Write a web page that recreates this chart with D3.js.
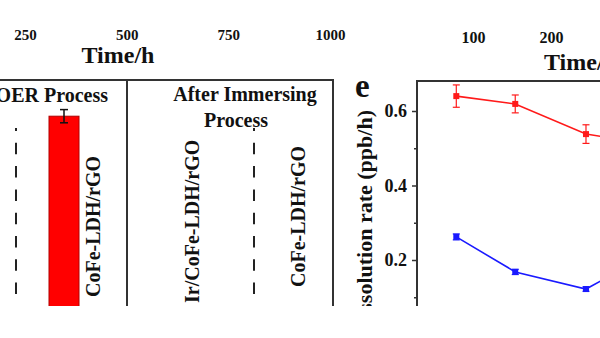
<!DOCTYPE html>
<html><head><meta charset="utf-8">
<script src="https://cdn.jsdelivr.net/npm/d3@7"></script>
<style>
html,body{margin:0;padding:0;background:#fff;}
svg text{font-family:"Liberation Serif","Times New Roman",serif;font-weight:bold;fill:#111;}
</style></head>
<body>
<svg id="chart" width="600" height="338"></svg>
<script>
// ---------- data ----------
const topLeftTicks = [250, 500, 750, 1000];
const topRightTicks = [100, 200];
const barCategories = ["CoFe-LDH/rGO"];
const barValues = [0.86];
const barErrors = [0.02];
const immersingLabels = ["Ir/CoFe-LDH/rGO", "CoFe-LDH/rGO"];
const rateTimes = [10, 25, 43, 60];
const redRates = [0.64, 0.619, 0.538, 0.51];
const redErrors = [0.03, 0.024, 0.025, 0.02];
const blueRates = [0.262, 0.168, 0.122, 0.22];
const blueErrors = [0.008, 0.007, 0.006, 0.008];
const yMajorTicks = [0.2, 0.4, 0.6];
const yMinorTicks = [0.1, 0.3, 0.5];

const svg = d3.select("#chart");
svg.append("defs").append("clipPath").attr("id", "cut")
  .append("rect").attr("x", 0).attr("y", 0).attr("width", 600).attr("height", 306);
const root = svg.append("g").attr("clip-path", "url(#cut)");

// ---------- top-left axis (upper panel remnant) ----------
const xTopL = d3.scaleLinear().domain([250, 1000]).range([25, 330]);
const gTL = root.append("g").attr("transform", "translate(0,20)")
  .call(d3.axisBottom(xTopL).tickValues(topLeftTicks).tickSize(0).tickPadding(9)
    .tickFormat(d3.format("d")));
gTL.select(".domain").remove();
gTL.selectAll("text").style("font-size", "15px").attr("font-family", null);
root.append("text").attr("x", 118).attr("y", 63).attr("text-anchor", "middle")
  .style("font-size", "24px").text("Time/h");

// ---------- top-right axis (upper panel remnant) ----------
const xTopR = d3.scaleLinear().domain([100, 200]).range([473, 551]);
const gTR = root.append("g").attr("transform", "translate(0,22)")
  .call(d3.axisBottom(xTopR).tickValues(topRightTicks).tickSize(0).tickPadding(10)
    .tickFormat(d3.format("d")));
gTR.select(".domain").remove();
gTR.selectAll("text").style("font-size", "16px").attr("font-family", null);
root.append("text").attr("x", 544).attr("y", 70).style("font-size", "24px").text("Time/h");

// ---------- middle panel ----------
const frameColor = "#333";
root.append("line").attr("x1", 0).attr("x2", 333).attr("y1", 80).attr("y2", 80)
  .attr("stroke", frameColor).attr("stroke-width", 2);
[127, 333].forEach(x => root.append("line").attr("x1", x).attr("x2", x)
  .attr("y1", 79).attr("y2", 320).attr("stroke", frameColor).attr("stroke-width", 2));

root.append("text").attr("x", 108).attr("y", 102).attr("text-anchor", "end")
  .style("font-size", "20px").text("OER Process");
root.append("text").attr("x", 245).attr("y", 101).attr("text-anchor", "middle")
  .style("font-size", "20px").text("After Immersing");
root.append("text").attr("x", 236).attr("y", 127).attr("text-anchor", "middle")
  .style("font-size", "20px").text("Process");

// dashed separators
[16, 254].forEach(x => root.append("line").attr("x1", x).attr("x2", x)
  .attr("y1", 128).attr("y2", 320).attr("stroke", "#222").attr("stroke-width", 2)
  .attr("stroke-dasharray", "11.5,11.8").attr("stroke-dashoffset", 8.5));

const xBar = d3.scaleBand().domain(barCategories).range([49, 79]).padding(0);
const yBar = d3.scaleLinear().domain([0, 1]).range([400, 70]);
root.selectAll("rect.bar").data(barValues).join("rect").attr("class", "bar")
  .attr("x", (d, i) => xBar(barCategories[i])).attr("width", xBar.bandwidth())
  .attr("y", d => yBar(d)).attr("height", d => yBar(0) - yBar(d))
  .attr("fill", "#ff0000").attr("stroke", "#b00000").attr("stroke-width", 1);
barValues.forEach((v, i) => {
  const cx = xBar(barCategories[i]) + xBar.bandwidth() / 2;
  const e = barErrors[i];
  const g = root.append("g").attr("stroke", "#111").attr("stroke-width", 1.5);
  g.append("line").attr("x1", cx).attr("x2", cx).attr("y1", yBar(v + e)).attr("y2", yBar(v - e));
  [v + e, v - e].forEach(t => g.append("line").attr("x1", cx - 4).attr("x2", cx + 4)
    .attr("y1", yBar(t)).attr("y2", yBar(t)));
});

// rotated labels
function vlabel(x, y, txt) {
  root.append("text").attr("transform", `translate(${x},${y}) rotate(-90)`)
    .style("font-size", "20px").text(txt);
}
vlabel(100, 297, barCategories[0]);
vlabel(199, 303, immersingLabels[0]);
vlabel(305, 287, immersingLabels[1]);

// ---------- panel e ----------
root.append("text").attr("x", 355).attr("y", 97).style("font-size", "33px").text("e");

const xE = d3.scaleLinear().domain([0, 100]).range([417, 810]);
const yE = d3.scaleLinear().domain([0, 0.6]).range([334.5, 111]);

root.append("line").attr("x1", 416).attr("x2", 620).attr("y1", 81).attr("y2", 81)
  .attr("stroke", frameColor).attr("stroke-width", 2);

const gY = root.append("g").attr("transform", "translate(417,0)")
  .call(d3.axisLeft(yE).tickValues(yMajorTicks).tickSize(5).tickPadding(5)
    .tickFormat(d3.format(".1f")));
gY.select(".domain").remove();
gY.selectAll("line").attr("stroke", frameColor).attr("stroke-width", 1.5);
gY.selectAll("text").style("font-size", "18px").attr("font-family", null);
const gYm = root.append("g").attr("transform", "translate(417,0)")
  .call(d3.axisLeft(yE).tickValues(yMinorTicks).tickSize(3).tickFormat(""));
gYm.select(".domain").remove();
gYm.selectAll("line").attr("stroke", frameColor).attr("stroke-width", 1.5);
root.append("line").attr("x1", 417).attr("x2", 417).attr("y1", 80).attr("y2", 320)
  .attr("stroke", frameColor).attr("stroke-width", 2);

root.append("text").attr("transform", "translate(372,110) rotate(-90)")
  .attr("text-anchor", "end").style("font-size", "22px").text("Dissolution rate (ppb/h)");

function series(vals, errs, color) {
  const pts = rateTimes.map((t, i) => [t, vals[i], errs[i]]);
  root.append("path").datum(pts)
    .attr("d", d3.line().x(d => xE(d[0])).y(d => yE(d[1])))
    .attr("fill", "none").attr("stroke", color).attr("stroke-width", 1.6);
  const g = root.append("g").attr("stroke", color).attr("stroke-width", 1.2);
  pts.forEach(d => {
    const cx = xE(d[0]);
    g.append("line").attr("x1", cx).attr("x2", cx).attr("y1", yE(d[1] + d[2])).attr("y2", yE(d[1] - d[2]));
    [d[1] + d[2], d[1] - d[2]].forEach(t => g.append("line")
      .attr("x1", cx - 3.5).attr("x2", cx + 3.5).attr("y1", yE(t)).attr("y2", yE(t)));
  });
  root.selectAll(null).data(pts).join("rect")
    .attr("x", d => xE(d[0]) - 3).attr("y", d => yE(d[1]) - 3)
    .attr("width", 6).attr("height", 6).attr("fill", color);
}
series(redRates, redErrors, "#ff1a1a");
series(blueRates, blueErrors, "#1a1aff");
</script>
</body></html>
